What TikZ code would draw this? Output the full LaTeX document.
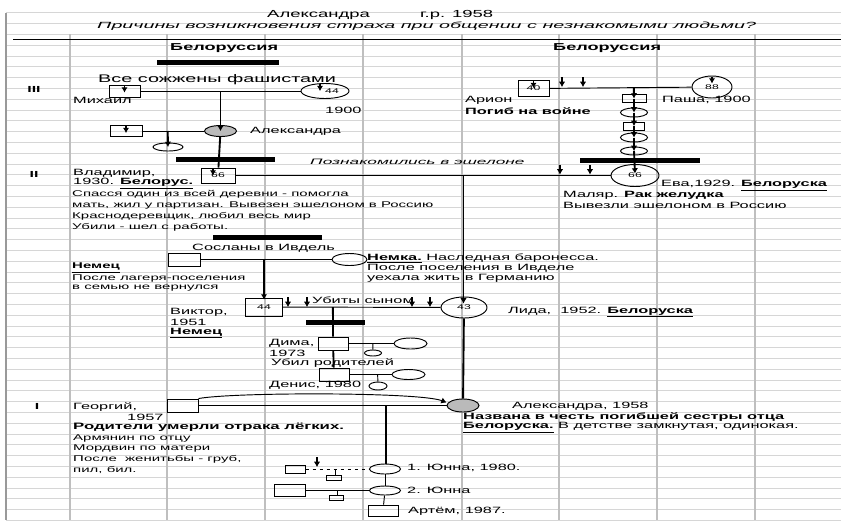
\documentclass[tikz,border=0pt]{standalone}
\usepackage{fontspec}
\setmainfont{Liberation Sans}[FakeStretch=1.8]
\newfontfamily\widefont{Liberation Sans}[FakeStretch=2.2]
\usetikzlibrary{positioning,calc,shapes.geometric,arrows.meta}
\newlength{\pxu}
\setlength{\pxu}{0.03cm}
\tikzset{malebox/.style 2 args={draw,rectangle,inner sep=0pt,line width=0.8pt,minimum width=#1\pxu,minimum height=#2\pxu,font=\fontsize{5.8}{6}\selectfont},
         femaleoval/.style 2 args={draw,ellipse,inner sep=0pt,line width=0.8pt,minimum width=#1\pxu,minimum height=#2\pxu,font=\fontsize{5.8}{6}\selectfont},
         wed/.style={line width=0.8pt},
         kin/.style={line width=1.6pt},
         bar/.style={line width=5\pxu},
         txt/.style={anchor=west,inner sep=0pt,font=\fontsize{7.75}{9}\selectfont},
         note/.style={anchor=west,inner sep=0pt,font=\fontsize{7.1}{8}\selectfont},
         bold/.style={anchor=west,inner sep=0pt,font=\bfseries\fontsize{7.75}{9}\selectfont},
         gen/.style={inner sep=0pt,font=\bfseries\fontsize{7.5}{8}\selectfont}
}
\tikzstyle{arrow} = [line width=0.9pt,->,>={Latex[length=4.5pt,width=5.5pt]}]
\begin{document}
\begin{tikzpicture}[x=0.03cm,y=-0.03cm,>={Latex[length=4.5pt,width=5.5pt]}]
\useasboundingbox (0,0) rectangle (841,520);

\foreach \k in {0,...,47} \draw[black!16,line width=0.7pt] (6,{12.8+10.8*\k}) -- (841,{12.8+10.8*\k});
\foreach \x in {70,167,265,363,462,559,657,755} \draw[black!25,line width=1pt] (\x,34.4) -- (\x,520);
\draw[black!40,line width=1pt] (6,12.8) -- (6,520);
\draw[line width=0.8pt] (13,39) -- (841,39);

\node[txt,font=\fontsize{8.75}{10}\selectfont] (title) at (267,15) {Александра};
\node[txt,font=\fontsize{8.75}{10}\selectfont] (born) at (420,15) {г.р. 1958};
\node[txt,font=\widefont\itshape\fontsize{7.65}{9}\selectfont] (question) at (97,26) {Причины возникновения страха при общении с незнакомыми людьми?};
\node[txt,font=\bfseries\fontsize{8.6}{10}\selectfont] (landleft) at (170,48) {Белоруссия};
\node[txt,font=\bfseries\fontsize{8.6}{10}\selectfont] (landright) at (553,48) {Белоруссия};
\node[gen] (genthree) at (34,89) {III};
\node[gen] (gentwo) at (34,174) {II};
\node[gen] (genone) at (37,406) {I};

\draw[bar] (157,62) -- (279,62);
\node[txt,font=\fontsize{9.4}{10}\selectfont] (burned) at (98,80) {Все сожжены фашистами};
\node[malebox={31}{12}] (mikhail) at (124.5,91) {};
\node[femaleoval={48}{15}] (mikhailwife) at (325,91) {\hspace*{14\pxu}44};
\node[txt] (mikhailname) at (73,100) {Михаил};
\node[txt] (mikhailyear) at (325,110) {1900};
\draw[wed] (mikhail) -- (mikhailwife);
\coordinate (mikhailkids) at ($(mikhail.east)!0.5!(mikhailwife.west)$);
\draw[arrow] ([yshift=-1\pxu]mikhail.north) -- ++(0,7);
\draw[arrow] ([xshift=-5\pxu,yshift=-1\pxu]mikhailwife.north) -- ++(0,7);

\node[femaleoval={32}{11},fill=black!27] (alexsenior) at (220.5,131) {};
\node[malebox={32}{11}] (alexhusband) at (126,131) {};
\node[femaleoval={30}{8}] (baby) at (168,147) {};
\node[txt] (alexseniorname) at (250,131) {Александра};
\draw[kin,->] (mikhailkids) -- (alexsenior.center);
\draw[wed] (alexhusband) -- (alexsenior);
\coordinate (alexseniorkids) at ($(alexhusband.east)!0.41!(alexsenior.west)$);
\draw[kin,->] (alexseniorkids) -- (baby.center);
\draw[arrow] ([yshift=-1\pxu]alexhusband.north) -- ++(0,7);

\node[malebox={31}{16}] (arion) at (533.5,88.5) {\raisebox{-4\pxu}{40}};
\node[femaleoval={40}{22}] (pasha) at (712,87) {\raisebox{-5\pxu}{88}};
\draw[wed] (arion) -- (pasha);
\coordinate (pashakids) at ($(arion.east)!0.594!(pasha.west)$);
\draw[arrow] ([yshift=-1\pxu]arion.north) -- ++(0,7);
\draw[arrow] ([yshift=-1\pxu]pasha.north) -- ++(0,7);
\foreach \x in {562,583} \draw[arrow] (\x,77) -- (\x,87);
\node[txt] (arionname) at (465,100) {Арион};
\node[bold] (ariondeath) at (465,111) {Погиб на войне};
\node[txt] (pashaname) at (662,100) {Паша, 1900};
\node[malebox={24}{8}] (sibone) at (634,98.5) {};
\node[femaleoval={27}{9}] (sibtwo) at (634,112.5) {};
\node[malebox={21}{8}] (sibthree) at (634,126) {};
\node[femaleoval={27}{9}] (sibfour) at (634,137.5) {};
\node[femaleoval={27}{8}] (sibfive) at (634,151) {};
\draw[bar] (580,160) -- (700,160);
\node[femaleoval={48}{22}] (eva) at (635,175.5) {\raisebox{-5\pxu}{66}};
\draw[kin,->] (pashakids) -- (sibone.center);
\draw[kin,->] (sibone.center) -- (sibtwo.center);
\draw[kin,->] (sibtwo.center) -- (sibthree.center);
\draw[kin,->] (sibthree.center) -- (sibfour.center);
\draw[kin,->] (sibfour.center) -- (sibfive.center);
\draw[kin,->] (sibfive.center) -- ([yshift=2\pxu]eva.center);

\draw[bar] (176,159) -- (275,159);
\node[txt,font=\widefont\itshape\fontsize{6.7}{8}\selectfont] (met) at (310,162) {Познакомились в эшелоне};
\node[malebox={34}{15}] (vladimir) at (218,175.5) {\raisebox{-4\pxu}{66}};
\draw[kin] (alexsenior) -- (vladimir);
\draw[arrow] ([xshift=-5\pxu,yshift=-1\pxu]vladimir.north) -- ++(0,7);
\draw[wed] (vladimir) -- (eva);
\foreach \x in {560,590} \draw[arrow] (\x,165) -- (\x,174.5);
\coordinate (evakids) at ($(vladimir.east)!0.608!(eva.west)$);
\node[txt] (vladname) at (73,173) {Владимир,};
\node[txt] (vladyear) at (73,183.5) {1930. \underline{\textbf{Белорус.}}};
\node[note] (vladnoteone) at (72,194.5) {Спасся один из всей деревни - помогла};
\node[note] (vladnotetwo) at (72,205.5) {мать, жил у партизан. Вывезен эшелоном в Россию};
\node[note] (vladnotethree) at (72,216) {Краснодеревщик, любил весь мир};
\node[note] (vladnotefour) at (72,227) {Убили - шел с работы.};
\node[txt] (evaname) at (661,185.5) {Ева,1929. \underline{\textbf{Белоруска}}};
\node[txt] (evajob) at (563,195.5) {Маляр. \textbf{Рак желудка}};
\node[txt] (evatrain) at (563,205.5) {Вывезли эшелоном в Россию};

\draw[bar] (213,237) -- (322,237);
\node[txt] (exile) at (192,248) {Сосланы в Ивдель};
\node[malebox={32}{13}] (german) at (184,259.5) {};
\node[femaleoval={35}{12}] (baroness) at (349.5,259.5) {};
\draw[wed] (german) -- (baroness);
\coordinate (germankids) at ($(german.east)!0.485!(baroness.west)$);
\node[txt] (baronessone) at (367,258) {\underline{\textbf{Немка.}} Наследная баронесса.};
\node[txt] (baronesstwo) at (367,268) {После поселения в Ивделе};
\node[txt] (baronessthree) at (367,278.5) {уехала жить в Германию};
\node[note,font=\bfseries\fontsize{7.1}{8}\selectfont] (germanone) at (72,268) {\underline{Немец}};
\node[note] (germantwo) at (72,278.5) {После лагеря-поселения};
\node[note] (germanthree) at (72,288.5) {в семью не вернулся};

\node[malebox={37}{18}] (viktor) at (264,307) {44};
\node[femaleoval={46}{21}] (lida) at (464,307.5) {\raisebox{-5\pxu}{43}};
\coordinate (lidatop) at ([yshift=4\pxu]lida.center);
\draw[kin,->] (evakids) -- (evakids |- lidatop);
\draw[kin,->] (germankids) -- ([yshift=-2\pxu]viktor.north);
\draw[wed] (viktor) -- (lida);
\foreach \x in {288,307,412,430} \draw[arrow] (\x,297) -- (\x,307);
\node[txt] (killedby) at (312,300) {Убиты сыном};
\coordinate (lidakids) at ($(viktor.east)!0.317!(lida.west)$);
\node[txt] (viktorname) at (170,312) {Виктор,};
\node[txt] (viktoryear) at (170,322.5) {1951};
\node[txt] (viktornation) at (170,333) {\underline{\textbf{Немец}}};
\node[txt] (lidaname) at (508,312) {Лида,\ \ 1952. \underline{\textbf{Белоруска}}};

\draw[bar] (306,322) -- (365,322);
\node[malebox={30}{13}] (dima) at (333,343.5) {};
\draw[kin] (lidakids) -- (dima);
\node[femaleoval={33}{11}] (dimawife) at (410.5,343.5) {};
\draw[wed] (dima) -- (dimawife);
\coordinate (dimakids) at ($(dima.east)!0.54!(dimawife.west)$);
\node[femaleoval={17}{6}] (dimakid) at (373,353) {};
\draw[wed] (dimakids) -- (dimakid);
\node[txt] (dimaname) at (269,343) {Дима,};
\node[txt] (dimayear) at (269,353.5) {1973};
\node[txt] (dimacrime) at (271,363.5) {Убил родителей};
\node[malebox={30}{13}] (denis) at (334,374.5) {};
\draw[kin] (dima) -- (denis);
\node[femaleoval={33}{10}] (deniswife) at (408.5,374.5) {};
\draw[wed] (denis) -- (deniswife);
\coordinate (deniskids) at ($(denis.east)!0.67!(deniswife.west)$);
\node[femaleoval={18}{8}] (deniskid) at (378,386) {};
\draw[wed] (deniskids) -- (deniskid);
\node[txt] (denisname) at (269,385) {Денис, 1980};

\node[malebox={31}{13}] (georgiy) at (182.5,405.5) {};
\node[femaleoval={32}{13},fill=black!27] (alexandra) at (463,405.5) {};
\draw[wed] (georgiy) -- (alexandra);
\draw[wed,->] (georgiy.north east) .. controls (235,392) and (420,392) .. ([yshift=3\pxu]alexandra.west);
\draw[kin] (lida) -- (alexandra);
\coordinate (alexkids) at ($(georgiy.east)!0.755!(alexandra.west)$);
\node[txt] (georgiyname) at (73,407) {Георгий,};
\node[txt] (georgiyyear) at (127,417) {1957};
\node[bold,font=\bfseries\fontsize{7.95}{9}\selectfont] (georgiyparents) at (73,427.5) {Родители умерли отрака лёгких.};
\node[note] (georgiyone) at (73,438) {Армянин по отцу};
\node[note] (georgiytwo) at (73,448.5) {Мордвин по матери};
\node[note] (georgiythree) at (73,459) {После\ \ женитьбы - груб,};
\node[note] (georgiyfour) at (73,469.5) {пил, бил.};
\node[txt] (alexname) at (512,406) {Александра, 1958};
\node[bold] (alexnamed) at (463,417) {Названа в честь погибшей сестры отца};
\node[txt] (alexnote) at (463,427.5) {\underline{\textbf{Белоруска.}} В детстве замкнутая, одинокая.};

\node[femaleoval={31}{10}] (yunnaone) at (385,469) {};
\draw[kin] (alexkids) -- (alexkids |- yunnaone.north);
\node[malebox={20}{8}] (husbandone) at (295,469) {};
\draw[wed,dashed] (husbandone) -- (yunnaone);
\draw[arrow] (317,457) -- (317,467);
\coordinate (yunnaonekids) at ($(husbandone.east)!0.465!(yunnaone.west)$);
\node[malebox={15}{5}] (kidone) at (334,478) {};
\draw[wed] (yunnaonekids) -- (yunnaonekids |- kidone.north);
\node[malebox={31}{12}] (husbandtwo) at (289.5,490.5) {};
\node[femaleoval={31}{9}] (yunnatwo) at (385,490.5) {};
\draw[wed] (husbandtwo) -- (yunnatwo);
\draw[wed] (yunnaone) -- (yunnatwo);
\coordinate (yunnatwokids) at ($(husbandtwo.east)!0.496!(yunnatwo.west)$);
\node[malebox={14}{5}] (kidtwo) at (336,497.5) {};
\draw[wed] (yunnatwokids) -- (yunnatwokids |- kidtwo.north);
\node[malebox={30}{11}] (artem) at (383,510.5) {};
\draw[wed] (yunnatwo) -- (artem);
\node[txt] (yunnaonename) at (407,468) {1. Юнна, 1980.};
\node[txt] (yunnatwoname) at (407,490) {2. Юнна};
\node[txt] (artemname) at (408,511) {Артём, 1987.};

\end{tikzpicture}
\end{document}
